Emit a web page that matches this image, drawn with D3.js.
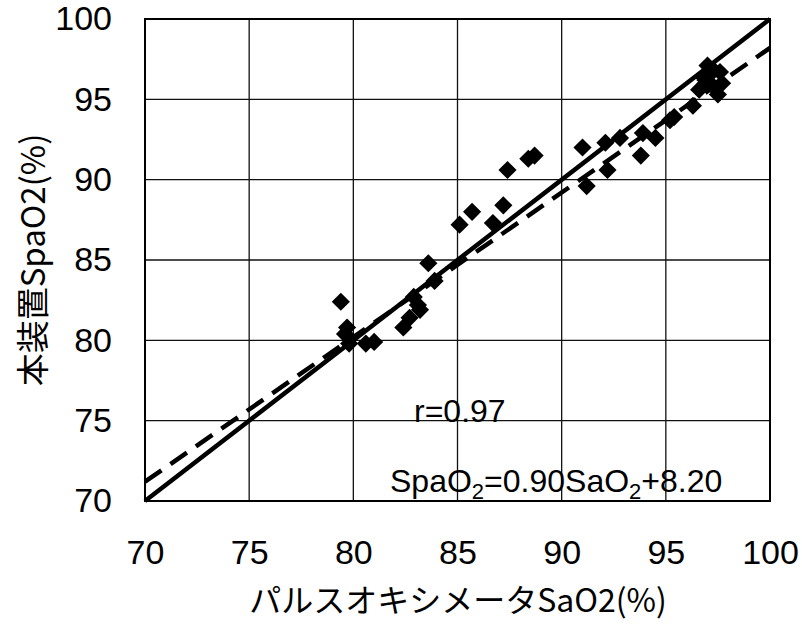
<!DOCTYPE html>
<html>
<head>
<meta charset="utf-8">
<script src="https://cdn.jsdelivr.net/npm/d3@7"></script>
<style>
  html, body { margin: 0; padding: 0; background: #fff; }
  svg { display: block; }
</style>
</head>
<body>
<svg id="chart" width="802" height="624"></svg>
<script>
// Pulse oximeter SaO2 (x) vs. device SpaO2 (y), percent
const sao2 = [79.4, 79.6, 79.8, 79.7, 80.6, 81.0, 82.4, 82.7, 83.1, 83.2, 82.9, 83.6, 83.9,
              85.1, 85.7, 87.2, 86.7, 87.4, 88.4, 88.7,
              91.0, 91.2, 92.2, 92.1, 92.8, 93.8, 93.9, 94.5, 95.2, 95.4,
              96.3, 96.6, 96.8, 97.0, 97.3, 97.5, 97.6, 97.7, 96.9, 97.2];
const spao2 = [82.4, 80.4, 79.8, 80.8, 79.8, 79.9, 80.8, 81.4, 82.2, 81.9, 82.7, 84.8, 83.7,
               87.2, 88.0, 88.4, 87.3, 90.6, 91.3, 91.5,
               92.0, 89.6, 90.6, 92.3, 92.6, 91.5, 92.9, 92.6, 93.7, 93.9,
               94.6, 95.6, 96.4, 97.1, 96.8, 95.3, 96.7, 96.0, 96.2, 95.9];

const xTicks = [70, 75, 80, 85, 90, 95, 100];
const yTicks = [70, 75, 80, 85, 90, 95, 100];
const slope = 0.90, intercept = 8.20, rValue = "0.97";

const svg = d3.select("#chart");
const m = { left: 145, right: 32, top: 19, bottom: 123 };
const W = 802, H = 624;

const x = d3.scaleLinear().domain([70, 100]).range([m.left, W - m.right]);
const y = d3.scaleLinear().domain([70, 100]).range([H - m.bottom, m.top]);

const font = "'Liberation Sans', Arial, sans-serif";

// grid
const grid = svg.append("g").attr("stroke", "#111").attr("stroke-width", 1.3);
grid.selectAll("line.v").data(xTicks.slice(1, -1)).join("line")
  .attr("x1", d => x(d)).attr("x2", d => x(d))
  .attr("y1", y(70)).attr("y2", y(100));
grid.selectAll("line.h").data(yTicks.slice(1, -1)).join("line")
  .attr("y1", d => y(d)).attr("y2", d => y(d))
  .attr("x1", x(70)).attr("x2", x(100));

// plot frame
svg.append("rect")
  .attr("x", x(70)).attr("y", y(100))
  .attr("width", x(100) - x(70)).attr("height", y(70) - y(100))
  .attr("fill", "none").attr("stroke", "#000").attr("stroke-width", 2);

// axes
const xAxis = svg.append("g")
  .attr("transform", `translate(0,${y(70)})`)
  .call(d3.axisBottom(x).tickValues(xTicks).tickSize(0).tickPadding(0));
const yAxis = svg.append("g")
  .attr("transform", `translate(${x(70)},0)`)
  .call(d3.axisLeft(y).tickValues(yTicks).tickSize(0).tickPadding(33));
[xAxis, yAxis].forEach(a => {
  a.select(".domain").remove();
  a.selectAll("text").attr("font-family", font).attr("font-size", 34).attr("fill", "#000");
});
xAxis.selectAll("text").attr("dy", null).attr("y", 63);

// identity line y = x
svg.append("line")
  .attr("x1", x(70)).attr("y1", y(70)).attr("x2", x(100)).attr("y2", y(100))
  .attr("stroke", "#000").attr("stroke-width", 4.5);

// regression line
svg.append("line")
  .attr("x1", x(70)).attr("y1", y(slope * 70 + intercept))
  .attr("x2", x(100)).attr("y2", y(slope * 100 + intercept))
  .attr("stroke", "#000").attr("stroke-width", 4.5)
  .attr("stroke-dasharray", "20,11");

// points (diamonds)
const diamond = d3.symbol().type(d3.symbolSquare).size(165);
svg.append("g").selectAll("path").data(sao2.map((v, i) => [v, spao2[i]])).join("path")
  .attr("d", diamond)
  .attr("transform", d => `translate(${x(d[0])},${y(d[1])}) rotate(45)`)
  .attr("fill", "#000");

// annotations
svg.append("text")
  .attr("x", 414).attr("y", 422)
  .attr("font-family", font).attr("font-size", 32).attr("fill", "#000")
  .text("r=" + rValue);

const eq = svg.append("text")
  .attr("x", 390).attr("y", 492)
  .attr("font-family", font).attr("font-size", 32).attr("fill", "#000");
eq.append("tspan").text("SpaO");
eq.append("tspan").attr("font-size", 22).attr("dy", 7).text("2");
eq.append("tspan").attr("dy", -7).text("=" + slope.toFixed(2) + "SaO");
eq.append("tspan").attr("font-size", 22).attr("dy", 7).text("2");
eq.append("tspan").attr("dy", -7).text("+" + intercept.toFixed(2));

// axis titles
const cjk = "'Noto Sans CJK JP', 'Liberation Sans', sans-serif";
svg.append("text")
  .attr("x", 458).attr("y", 612)
  .attr("text-anchor", "middle")
  .attr("font-family", cjk).attr("font-size", 32).attr("fill", "#000")
  .text("パルスオキシメータSaO2(%)");

svg.append("text")
  .attr("transform", `translate(45,${(y(70) + y(100)) / 2}) rotate(-90)`)
  .attr("text-anchor", "middle")
  .attr("font-family", cjk).attr("font-size", 33).attr("fill", "#000")
  .text("本装置SpaO2(%)");
</script>
</body>
</html>
